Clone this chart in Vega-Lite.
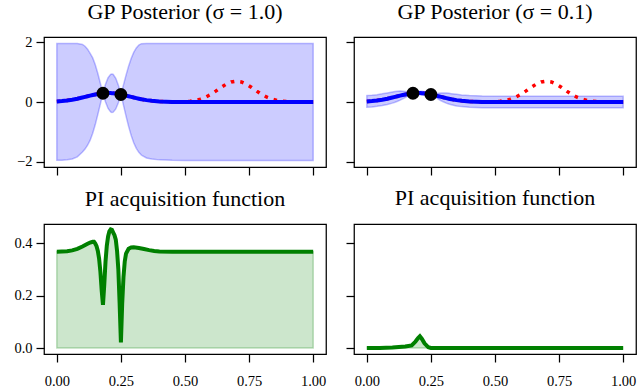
{
  "$schema": "https://vega.github.io/schema/vega-lite/v6.json",
  "padding": {"left": 13, "top": 0, "right": 5, "bottom": 2},
  "config": {
    "font": "Liberation Serif",
    "view": {"stroke": "black", "strokeWidth": 1.25},
    "axis": {"domain": false, "grid": false, "ticks": true, "tickColor": "black", "tickWidth": 1.25, "tickSize": 8, "labelFont": "Liberation Serif", "labelFontSize": 14.5, "labelColor": "black"},
    "axisX": {"labelPadding": 12},
    "axisY": {"labelPadding": 4},
    "title": {"font": "Liberation Serif", "fontSize": 22, "fontWeight": "normal", "color": "black", "baseline": "alphabetic", "offset": 10}
  },
  "datasets": {
    "gp": [
      {"x": 0, "m": 0.019, "hi1": 1.96, "lo1": -1.95, "hi01": 0.215, "lo01": -0.177},
      {"x": 0.02, "m": 0.032, "hi1": 1.96, "lo1": -1.95, "hi01": 0.228, "lo01": -0.164},
      {"x": 0.04, "m": 0.051, "hi1": 1.96, "lo1": -1.94, "hi01": 0.247, "lo01": -0.145},
      {"x": 0.06, "m": 0.077, "hi1": 1.96, "lo1": -1.91, "hi01": 0.273, "lo01": -0.118},
      {"x": 0.08, "m": 0.111, "hi1": 1.96, "lo1": -1.84, "hi01": 0.305, "lo01": -0.083},
      {"x": 0.1, "m": 0.15, "hi1": 1.93, "lo1": -1.68, "hi01": 0.337, "lo01": -0.037},
      {"x": 0.11, "m": 0.171, "hi1": 1.87, "lo1": -1.58, "hi01": 0.351, "lo01": -0.009},
      {"x": 0.12, "m": 0.193, "hi1": 1.77, "lo1": -1.45, "hi01": 0.361, "lo01": 0.025},
      {"x": 0.13, "m": 0.214, "hi1": 1.63, "lo1": -1.28, "hi01": 0.366, "lo01": 0.062},
      {"x": 0.14, "m": 0.234, "hi1": 1.48, "lo1": -1.05, "hi01": 0.363, "lo01": 0.105},
      {"x": 0.15, "m": 0.252, "hi1": 1.25, "lo1": -0.757, "hi01": 0.353, "lo01": 0.151},
      {"x": 0.16, "m": 0.269, "hi1": 0.955, "lo1": -0.417, "hi01": 0.338, "lo01": 0.2},
      {"x": 0.17, "m": 0.282, "hi1": 0.621, "lo1": -0.057, "hi01": 0.316, "lo01": 0.248},
      {"x": 0.175, "m": 0.287, "hi1": 0.456, "lo1": 0.119, "hi01": 0.304, "lo01": 0.27},
      {"x": 0.18, "m": 0.292, "hi1": 0.31, "lo1": 0.274, "hi01": 0.294, "lo01": 0.29},
      {"x": 0.185, "m": 0.295, "hi1": 0.45, "lo1": 0.14, "hi01": 0.31, "lo01": 0.28},
      {"x": 0.19, "m": 0.298, "hi1": 0.594, "lo1": 0.002, "hi01": 0.328, "lo01": 0.268},
      {"x": 0.2, "m": 0.3, "hi1": 0.815, "lo1": -0.215, "hi01": 0.352, "lo01": 0.248},
      {"x": 0.21, "m": 0.298, "hi1": 0.929, "lo1": -0.333, "hi01": 0.361, "lo01": 0.235},
      {"x": 0.215, "m": 0.295, "hi1": 0.94, "lo1": -0.35, "hi01": 0.359, "lo01": 0.231},
      {"x": 0.22, "m": 0.292, "hi1": 0.923, "lo1": -0.339, "hi01": 0.355, "lo01": 0.229},
      {"x": 0.23, "m": 0.282, "hi1": 0.797, "lo1": -0.233, "hi01": 0.334, "lo01": 0.23},
      {"x": 0.24, "m": 0.269, "hi1": 0.565, "lo1": -0.027, "hi01": 0.299, "lo01": 0.239},
      {"x": 0.245, "m": 0.261, "hi1": 0.416, "lo1": 0.106, "hi01": 0.276, "lo01": 0.246},
      {"x": 0.25, "m": 0.252, "hi1": 0.27, "lo1": 0.235, "hi01": 0.254, "lo01": 0.25},
      {"x": 0.255, "m": 0.243, "hi1": 0.412, "lo1": 0.075, "hi01": 0.26, "lo01": 0.226},
      {"x": 0.26, "m": 0.234, "hi1": 0.573, "lo1": -0.105, "hi01": 0.268, "lo01": 0.2},
      {"x": 0.27, "m": 0.214, "hi1": 0.9, "lo1": -0.472, "hi01": 0.283, "lo01": 0.145},
      {"x": 0.28, "m": 0.193, "hi1": 1.202, "lo1": -0.816, "hi01": 0.294, "lo01": 0.092},
      {"x": 0.29, "m": 0.171, "hi1": 1.462, "lo1": -1.12, "hi01": 0.3, "lo01": 0.042},
      {"x": 0.3, "m": 0.15, "hi1": 1.665, "lo1": -1.365, "hi01": 0.302, "lo01": -0.002},
      {"x": 0.31, "m": 0.13, "hi1": 1.813, "lo1": -1.553, "hi01": 0.298, "lo01": -0.038},
      {"x": 0.32, "m": 0.111, "hi1": 1.91, "lo1": -1.688, "hi01": 0.291, "lo01": -0.069},
      {"x": 0.33, "m": 0.093, "hi1": 1.955, "lo1": -1.779, "hi01": 0.28, "lo01": -0.094},
      {"x": 0.35, "m": 0.063, "hi1": 1.96, "lo1": -1.876, "hi01": 0.257, "lo01": -0.131},
      {"x": 0.37, "m": 0.041, "hi1": 1.96, "lo1": -1.915, "hi01": 0.236, "lo01": -0.155},
      {"x": 0.4, "m": 0.019, "hi1": 1.96, "lo1": -1.941, "hi01": 0.215, "lo01": -0.177},
      {"x": 0.45, "m": 0.004, "hi1": 1.96, "lo1": -1.956, "hi01": 0.2, "lo01": -0.192},
      {"x": 0.5, "m": 0.001, "hi1": 1.96, "lo1": -1.96, "hi01": 0.197, "lo01": -0.195},
      {"x": 0.6, "m": 0, "hi1": 1.96, "lo1": -1.96, "hi01": 0.196, "lo01": -0.196},
      {"x": 0.7, "m": 0, "hi1": 1.96, "lo1": -1.96, "hi01": 0.196, "lo01": -0.196},
      {"x": 0.8, "m": 0, "hi1": 1.96, "lo1": -1.96, "hi01": 0.196, "lo01": -0.196},
      {"x": 0.9, "m": 0, "hi1": 1.96, "lo1": -1.96, "hi01": 0.196, "lo01": -0.196},
      {"x": 1.0, "m": 0, "hi1": 1.96, "lo1": -1.96, "hi01": 0.196, "lo01": -0.196}
    ],
    "truth": [
      {"x": 0, "y": 0.019}, {"x": 0.02, "y": 0.032}, {"x": 0.04, "y": 0.051}, {"x": 0.06, "y": 0.077},
      {"x": 0.08, "y": 0.111}, {"x": 0.1, "y": 0.15}, {"x": 0.12, "y": 0.193}, {"x": 0.14, "y": 0.234},
      {"x": 0.16, "y": 0.269}, {"x": 0.18, "y": 0.292}, {"x": 0.2, "y": 0.3}, {"x": 0.22, "y": 0.292},
      {"x": 0.24, "y": 0.269}, {"x": 0.26, "y": 0.234}, {"x": 0.28, "y": 0.193}, {"x": 0.3, "y": 0.15},
      {"x": 0.32, "y": 0.111}, {"x": 0.34, "y": 0.077}, {"x": 0.36, "y": 0.051}, {"x": 0.38, "y": 0.032},
      {"x": 0.4, "y": 0.019}, {"x": 0.42, "y": 0.011}, {"x": 0.44, "y": 0.006}, {"x": 0.46, "y": 0.005},
      {"x": 0.48, "y": 0.006}, {"x": 0.5, "y": 0.012}, {"x": 0.52, "y": 0.026}, {"x": 0.54, "y": 0.051},
      {"x": 0.56, "y": 0.095}, {"x": 0.58, "y": 0.161}, {"x": 0.6, "y": 0.252}, {"x": 0.62, "y": 0.364},
      {"x": 0.64, "y": 0.485}, {"x": 0.66, "y": 0.595}, {"x": 0.68, "y": 0.672}, {"x": 0.7, "y": 0.7},
      {"x": 0.72, "y": 0.672}, {"x": 0.74, "y": 0.595}, {"x": 0.76, "y": 0.485}, {"x": 0.78, "y": 0.364},
      {"x": 0.8, "y": 0.252}, {"x": 0.82, "y": 0.161}, {"x": 0.84, "y": 0.095}, {"x": 0.86, "y": 0.051},
      {"x": 0.88, "y": 0.026}, {"x": 0.9, "y": 0.012}, {"x": 0.92, "y": 0.005}, {"x": 0.94, "y": 0.002},
      {"x": 0.96, "y": 0.001}, {"x": 0.98, "y": 0}, {"x": 1.0, "y": 0}
    ],
    "obs": [
      {"x": 0.18, "y": 0.295},
      {"x": 0.25, "y": 0.25}
    ],
    "pi1": [
      {"x": 0, "p": 0.367}, {"x": 0.02, "p": 0.368}, {"x": 0.04, "p": 0.369}, {"x": 0.06, "p": 0.372},
      {"x": 0.08, "p": 0.378}, {"x": 0.1, "p": 0.387}, {"x": 0.12, "p": 0.397}, {"x": 0.13, "p": 0.402},
      {"x": 0.14, "p": 0.405}, {"x": 0.145, "p": 0.405}, {"x": 0.15, "p": 0.398}, {"x": 0.155, "p": 0.388},
      {"x": 0.16, "p": 0.37}, {"x": 0.165, "p": 0.34}, {"x": 0.17, "p": 0.29}, {"x": 0.175, "p": 0.22},
      {"x": 0.18, "p": 0.165}, {"x": 0.185, "p": 0.24}, {"x": 0.19, "p": 0.33}, {"x": 0.195, "p": 0.39},
      {"x": 0.2, "p": 0.425}, {"x": 0.205, "p": 0.445}, {"x": 0.21, "p": 0.452}, {"x": 0.215, "p": 0.45},
      {"x": 0.22, "p": 0.44}, {"x": 0.225, "p": 0.43}, {"x": 0.23, "p": 0.413}, {"x": 0.235, "p": 0.37},
      {"x": 0.24, "p": 0.3}, {"x": 0.245, "p": 0.17}, {"x": 0.25, "p": 0.022}, {"x": 0.255, "p": 0.17},
      {"x": 0.26, "p": 0.27}, {"x": 0.265, "p": 0.33}, {"x": 0.27, "p": 0.36}, {"x": 0.28, "p": 0.378},
      {"x": 0.29, "p": 0.383}, {"x": 0.3, "p": 0.384}, {"x": 0.32, "p": 0.381}, {"x": 0.34, "p": 0.377},
      {"x": 0.36, "p": 0.373}, {"x": 0.38, "p": 0.37}, {"x": 0.4, "p": 0.368}, {"x": 0.45, "p": 0.367},
      {"x": 0.5, "p": 0.367}, {"x": 0.6, "p": 0.367}, {"x": 0.7, "p": 0.367}, {"x": 0.8, "p": 0.367},
      {"x": 0.9, "p": 0.367}, {"x": 1.0, "p": 0.367}
    ],
    "pi01": [
      {"x": 0, "p": 0}, {"x": 0.05, "p": 0.0005}, {"x": 0.1, "p": 0.002}, {"x": 0.15, "p": 0.006},
      {"x": 0.175, "p": 0.01}, {"x": 0.19, "p": 0.025}, {"x": 0.2, "p": 0.038}, {"x": 0.207, "p": 0.045},
      {"x": 0.215, "p": 0.035}, {"x": 0.225, "p": 0.018}, {"x": 0.24, "p": 0.003}, {"x": 0.25, "p": 0.0005},
      {"x": 0.3, "p": 0}, {"x": 0.5, "p": 0}, {"x": 0.75, "p": 0}, {"x": 1.0, "p": 0}
    ]
  },
  "columns": 2,
  "spacing": {"row": 57, "column": 28},
  "bounds": "flush",
  "resolve": {"scale": {"x": "independent", "y": "independent"}},
  "concat": [
    {
      "width": 282, "height": 130,
      "title": {"text": "GP Posterior (σ = 1.0)"},
      "layer": [
        {
          "data": {"name": "gp"},
          "mark": {"type": "area", "fill": "#0000ff", "fillOpacity": 0.2, "stroke": "#0000ff", "strokeOpacity": 0.25, "strokeWidth": 1.5},
          "encoding": {
            "x": {"field": "x", "type": "quantitative", "title": null, "scale": {"domain": [-0.05, 1.05], "nice": false, "zero": false}, "axis": {"values": [0, 0.25, 0.5, 0.75, 1], "labels": false}},
            "y": {"field": "hi1", "type": "quantitative", "title": null, "scale": {"domain": [-2.18, 2.18], "nice": false, "zero": false}, "axis": {"values": [-2, 0, 2], "labelExpr": "datum.value < 0 ? '−' + format(-datum.value, 'd') : format(datum.value, 'd')"}},
            "y2": {"field": "lo1"}
          }
        },
        {
          "data": {"name": "truth"},
          "mark": {"type": "line", "color": "#ff0000", "strokeWidth": 3.5, "strokeDash": [3.5, 6]},
          "encoding": {
            "x": {"field": "x", "type": "quantitative", "title": null},
            "y": {"field": "y", "type": "quantitative", "title": null}
          }
        },
        {
          "data": {"name": "gp"},
          "mark": {"type": "line", "color": "#0000ff", "strokeWidth": 4},
          "encoding": {
            "x": {"field": "x", "type": "quantitative", "title": null},
            "y": {"field": "m", "type": "quantitative", "title": null}
          }
        },
        {
          "data": {"name": "obs"},
          "mark": {"type": "circle", "color": "black", "opacity": 1, "size": 165},
          "encoding": {
            "x": {"field": "x", "type": "quantitative", "title": null},
            "y": {"field": "y", "type": "quantitative", "title": null}
          }
        }
      ]
    },
    {
      "width": 282, "height": 130,
      "title": {"text": "GP Posterior (σ = 0.1)"},
      "layer": [
        {
          "data": {"name": "gp"},
          "mark": {"type": "area", "fill": "#0000ff", "fillOpacity": 0.2, "stroke": "#0000ff", "strokeOpacity": 0.25, "strokeWidth": 1.5},
          "encoding": {
            "x": {"field": "x", "type": "quantitative", "title": null, "scale": {"domain": [-0.05, 1.05], "nice": false, "zero": false}, "axis": {"values": [0, 0.25, 0.5, 0.75, 1], "labels": false}},
            "y": {"field": "hi01", "type": "quantitative", "title": null, "scale": {"domain": [-2.18, 2.18], "nice": false, "zero": false}, "axis": {"values": [-2, 0, 2], "labelOpacity": 0, "labelExpr": "datum.value < 0 ? '−' + format(-datum.value, 'd') : format(datum.value, 'd')"}},
            "y2": {"field": "lo01"}
          }
        },
        {
          "data": {"name": "truth"},
          "mark": {"type": "line", "color": "#ff0000", "strokeWidth": 3.5, "strokeDash": [3.5, 6]},
          "encoding": {
            "x": {"field": "x", "type": "quantitative", "title": null},
            "y": {"field": "y", "type": "quantitative", "title": null}
          }
        },
        {
          "data": {"name": "gp"},
          "mark": {"type": "line", "color": "#0000ff", "strokeWidth": 4},
          "encoding": {
            "x": {"field": "x", "type": "quantitative", "title": null},
            "y": {"field": "m", "type": "quantitative", "title": null}
          }
        },
        {
          "data": {"name": "obs"},
          "mark": {"type": "circle", "color": "black", "opacity": 1, "size": 165},
          "encoding": {
            "x": {"field": "x", "type": "quantitative", "title": null},
            "y": {"field": "y", "type": "quantitative", "title": null}
          }
        }
      ]
    },
    {
      "width": 282, "height": 130,
      "title": {"text": "PI acquisition function"},
      "data": {"name": "pi1"},
      "layer": [
        {
          "mark": {"type": "area", "fill": "#008000", "fillOpacity": 0.2, "stroke": "#008000", "strokeOpacity": 0.25, "strokeWidth": 1.5},
          "encoding": {
            "x": {"field": "x", "type": "quantitative", "title": null, "scale": {"domain": [-0.05, 1.05], "nice": false, "zero": false}, "axis": {"values": [0, 0.25, 0.5, 0.75, 1], "format": ".2f"}},
            "y": {"field": "p", "type": "quantitative", "title": null, "scale": {"domain": [-0.0225, 0.4725], "nice": false, "zero": false}, "axis": {"values": [0, 0.2, 0.4], "format": ".1f"}},
            "y2": {"datum": 0}
          }
        },
        {
          "mark": {"type": "line", "color": "#008000", "strokeWidth": 4},
          "encoding": {
            "x": {"field": "x", "type": "quantitative", "title": null},
            "y": {"field": "p", "type": "quantitative", "title": null}
          }
        }
      ]
    },
    {
      "width": 282, "height": 130,
      "title": {"text": "PI acquisition function", "offset": 14},
      "data": {"name": "pi01"},
      "layer": [
        {
          "mark": {"type": "area", "fill": "#008000", "fillOpacity": 0.2, "stroke": "#008000", "strokeOpacity": 0.25, "strokeWidth": 1.5},
          "encoding": {
            "x": {"field": "x", "type": "quantitative", "title": null, "scale": {"domain": [-0.05, 1.05], "nice": false, "zero": false}, "axis": {"values": [0, 0.25, 0.5, 0.75, 1], "format": ".2f"}},
            "y": {"field": "p", "type": "quantitative", "title": null, "scale": {"domain": [-0.0225, 0.4725], "nice": false, "zero": false}, "axis": {"values": [0, 0.2, 0.4], "format": ".1f", "labelOpacity": 0}},
            "y2": {"datum": 0}
          }
        },
        {
          "mark": {"type": "line", "color": "#008000", "strokeWidth": 4},
          "encoding": {
            "x": {"field": "x", "type": "quantitative", "title": null},
            "y": {"field": "p", "type": "quantitative", "title": null}
          }
        }
      ]
    }
  ]
}
